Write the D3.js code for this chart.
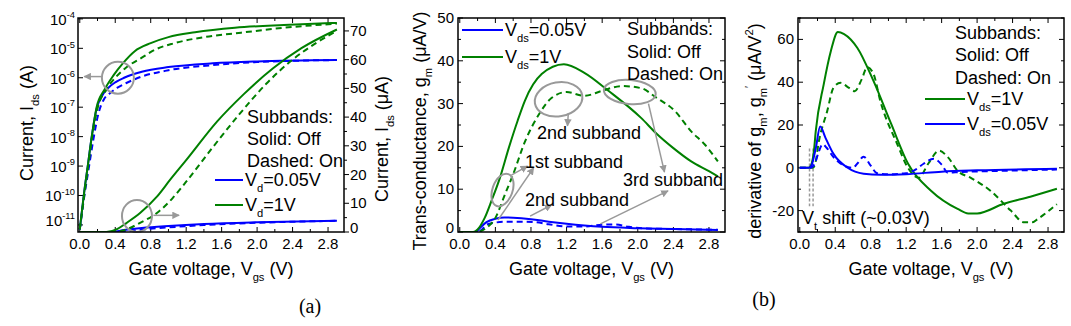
<!DOCTYPE html>
<html>
<head>
<meta charset="utf-8">
<script src="https://cdn.jsdelivr.net/npm/d3@7"></script>
<style>
  body { margin: 0; background: #fff; }
  text { font-family: "Liberation Sans", Arial, sans-serif; fill: #000; }
</style>
</head>
<body>
<svg id="fig" width="1071" height="326"></svg>
<script>
// ---- (a) drain current, log axis (A) : [Vgs, Ids]
const idsLogVd1Off = [[0,7e-12],[0.045,1e-10],[0.09,1e-9],[0.135,1e-8],[0.19,1e-7],[0.28,4e-7],[0.38,1.2e-6],[0.49,3.2e-6],[0.62,8e-6],[0.8,1.5e-5],[1.0,2.4e-5],[1.3,3.5e-5],[1.75,5e-5],[2.3,6.2e-5],[2.9,7.3e-5]];
const idsLogVd1On = [[0,7e-12],[0.05,1e-10],[0.095,1e-9],[0.14,1e-8],[0.2,9e-8],[0.3,4e-7],[0.4,1e-6],[0.52,2.2e-6],[0.7,4.8e-6],[0.85,9e-6],[1.07,1.5e-5],[1.4,2.4e-5],[1.82,3.4e-5],[2.3,5e-5],[2.9,6.9e-5]];
const idsLogVd005Off = [[0,7e-12],[0.045,1e-10],[0.09,1e-9],[0.135,1e-8],[0.19,9e-8],[0.25,2.4e-7],[0.32,4.5e-7],[0.4,7e-7],[0.5,1e-6],[0.7,1.6e-6],[1.0,2.3e-6],[1.5,3.1e-6],[2.0,3.6e-6],[2.9,4e-6]];
const idsLogVd005On = [[0,7e-12],[0.05,9e-11],[0.1,8e-10],[0.15,7e-9],[0.21,6e-8],[0.27,1.8e-7],[0.34,3e-7],[0.42,4.5e-7],[0.52,6.5e-7],[0.7,1.1e-6],[1.0,1.8e-6],[1.5,2.7e-6],[2.0,3.4e-6],[2.9,4e-6]];

// ---- (a) drain current, linear axis (uA)
const idsLinVd1Off = [[0,0],[0.3,0],[0.42,1],[0.53,3.2],[0.68,6.6],[0.87,12.3],[1.02,18.2],[1.2,25],[1.55,38.5],[1.85,48],[2.18,57],[2.5,64],[2.9,70.5]];
const idsLinVd1On = [[0,0],[0.4,0],[0.55,1.2],[0.68,3.2],[0.87,6.6],[1.05,11.9],[1.2,17.5],[1.5,29.5],[1.8,41],[2.1,51.5],[2.4,60],[2.65,65.5],[2.9,70]];
const idsLinVd005Off = [[0,0],[0.35,0],[0.5,0.7],[0.7,1.4],[1.0,2.1],[1.4,2.8],[2.0,3.4],[2.9,3.9]];
const idsLinVd005On = [[0,0],[0.4,0],[0.55,0.4],[0.75,1.0],[1.0,1.6],[1.4,2.4],[2.0,3.2],[2.9,3.9]];

// ---- trans-conductance gm (uA/V)
const gmVd1Off = [[0,0],[0.15,0],[0.2,0.6],[0.28,3.3],[0.36,7.5],[0.45,12.6],[0.55,19.6],[0.65,26],[0.73,30.6],[0.92,36.9],[1.17,39.2],[1.4,37.2],[1.67,33],[2.04,26.6],[2.2,23.2],[2.4,19.6],[2.6,16.5],[2.8,14.2],[2.9,13]];
const gmVd1On = [[0,0],[0.2,0],[0.28,0.7],[0.4,3.3],[0.51,8.9],[0.6,13.5],[0.73,21],[0.89,27.5],[1.03,31.3],[1.2,32.7],[1.4,31.8],[1.6,33],[1.82,34.1],[2.04,33.6],[2.2,31.5],[2.42,28.2],[2.6,23.5],[2.75,20.5],[2.9,16.5]];
const gmVd005Off = [[0,0],[0.18,0],[0.22,0.8],[0.3,2.3],[0.4,3.1],[0.5,3.4],[0.6,3.35],[0.8,3.0],[1.0,2.4],[1.2,1.9],[1.4,1.5],[1.6,1.2],[2.0,0.9],[2.4,0.7],[2.9,0.45]];
const gmVd005On = [[0,0],[0.2,0],[0.25,0.6],[0.3,1.7],[0.4,2.2],[0.5,2.4],[0.7,2.4],[0.85,2.3],[1.0,1.8],[1.2,1.3],[1.4,1.3],[1.6,1.7],[1.75,1.75],[1.9,1.2],[2.1,0.8],[2.4,0.7],[2.9,0.5]];

// ---- derivative of gm (uA/V^2)
const dgmVd1Off = [[0,0],[0.1,0],[0.13,1.5],[0.16,8],[0.18,17],[0.27,39],[0.35,54.5],[0.43,63.5],[0.5,62.5],[0.65,56],[0.83,40.7],[1.03,20.6],[1.22,2],[1.48,-10.7],[1.78,-19.2],[1.9,-21.3],[2.0,-21.3],[2.3,-16.8],[2.6,-13.5],[2.9,-9.8]];
const dgmVd1On = [[0,0],[0.15,0],[0.18,3],[0.21,11],[0.31,26.6],[0.38,37.4],[0.46,39.7],[0.55,37.5],[0.62,35.8],[0.7,41.5],[0.76,47],[0.83,44],[0.91,31],[1.1,11],[1.22,0],[1.34,-4.7],[1.45,2],[1.57,8],[1.67,5],[1.78,-1.4],[1.93,-4.7],[2.15,-10.7],[2.38,-20],[2.53,-25.5],[2.62,-25.5],[2.68,-24],[2.9,-17]];
const dgmVd005Off = [[0,0],[0.1,0],[0.13,1],[0.18,9],[0.23,19.3],[0.29,14],[0.38,6.5],[0.54,0],[0.72,-2.8],[0.91,-3.3],[1.2,-3],[1.6,-1.8],[2.0,-1.2],[2.9,-0.5]];
const dgmVd005On = [[0,0],[0.12,0],[0.17,2],[0.21,7],[0.26,11],[0.3,9.5],[0.38,5],[0.5,1],[0.6,0],[0.65,2],[0.72,5.2],[0.8,1],[0.87,-2.5],[1.0,-3],[1.2,-2.5],[1.3,-1],[1.4,2],[1.51,4.2],[1.6,1.5],[1.67,-2.3],[1.8,-2],[2.2,-1.5],[2.9,-0.8]];

// threshold-shift markers (Vgs) and axis ticks
const vtMarks = [0.11, 0.15];
const vgsTicks = [0, 0.4, 0.8, 1.2, 1.6, 2.0, 2.4, 2.8];
const logTicks = [-11, -10, -9, -8, -7, -6, -5, -4];
const linTicksA = [0, 10, 20, 30, 40, 50, 60, 70];
const gmTicks = [0, 10, 20, 30, 40, 50];
const dgmTicks = [-20, 0, 20, 40, 60];

const GREEN = "#008000", BLUE = "#0000ff", GRAY = "#999";
const svg = d3.select("#fig");
const plotTop = 18, plotBottom = 232;
const tickFont = 15;

const defs = svg.append("defs");
defs.append("marker").attr("id", "arr").attr("viewBox", "0 0 10 10")
  .attr("refX", 9).attr("refY", 5).attr("markerWidth", 5).attr("markerHeight", 5)
  .attr("orient", "auto")
  .append("path").attr("d", "M0,0 L10,5 L0,10 Z").attr("fill", GRAY);

// text with sub/superscript parts: [["V",""],["ds","sub"],["=1V",""]]
function rich(t, parts, size) {
  let shift = 0;
  parts.forEach(([s, k]) => {
    const target = k === "sub" ? size * 0.33 : k === "sup" ? -size * 0.45 : 0;
    t.append("tspan").attr("dy", target - shift)
      .attr("font-size", k ? size * 0.62 : size).text(s);
    shift = target;
  });
  return t;
}

function frame(id, x0, x1) {
  const g = svg.append("g");
  const x = d3.scaleLinear().domain([-0.02, 2.98]).range([x0, x1]);
  defs.append("clipPath").attr("id", id).append("rect")
    .attr("x", x0).attr("y", plotTop).attr("width", x1 - x0).attr("height", plotBottom - plotTop);
  // x ticks bottom and top, inward
  const minor = d3.range(0, 3.0, 0.2);
  minor.forEach(v => {
    const major = vgsTicks.some(t => Math.abs(t - v) < 1e-6);
    const len = major ? 5 : 3;
    g.append("line").attr("x1", x(v)).attr("x2", x(v)).attr("y1", plotBottom).attr("y2", plotBottom - len).attr("stroke", "#000");
    g.append("line").attr("x1", x(v)).attr("x2", x(v)).attr("y1", plotTop).attr("y2", plotTop + len).attr("stroke", "#000");
  });
  vgsTicks.forEach(v => g.append("text").attr("x", x(v)).attr("y", 249)
    .attr("text-anchor", "middle").attr("font-size", tickFont).text(v.toFixed(1)));
  const tt = g.append("text").attr("x", (x0 + x1) / 2).attr("y", 275).attr("text-anchor", "middle");
  rich(tt, [["Gate voltage, V", ""], ["gs", "sub"], [" (V)", ""]], 18);
  return { g, x, x0, x1, clip: id };
}

function yTicks(p, y, majors, step, side, out, labels) {
  const [lo, hi] = y.domain();
  const xs = side === "left" ? p.x0 : p.x1;
  const dir = (side === "left" ? 1 : -1) * (out ? -1 : 1);
  for (let v = Math.ceil(lo / step) * step; v <= hi + 1e-9; v += step) {
    const major = majors.some(t => Math.abs(t - v) < 1e-6);
    p.g.append("line").attr("x1", xs).attr("x2", xs + dir * (major ? 5 : 3))
      .attr("y1", y(v)).attr("y2", y(v)).attr("stroke", "#000");
  }
  if (labels) majors.forEach(v => {
    // a label sitting on the bottom edge is nudged up, clear of the x labels
    const lift = Math.abs(y(v) - plotBottom) < 1 ? -4 : 0;
    p.g.append("text").attr("x", side === "left" ? xs - 4 : xs + 6).attr("y", y(v) + 5 + lift)
      .attr("text-anchor", side === "left" ? "end" : "start").attr("font-size", tickFont).text(v);
  });
}

function box(p) {
  p.g.append("rect").attr("x", p.x0).attr("y", plotTop).attr("width", p.x1 - p.x0)
    .attr("height", plotBottom - plotTop).attr("fill", "none").attr("stroke", "#000").attr("stroke-width", 1.5);
}

function curve(p, y, data, color, dashed, yf) {
  const line = d3.line().x(d => p.x(d[0])).y(d => y(yf ? yf(d[1]) : d[1])).curve(d3.curveMonotoneX);
  p.g.append("path").datum(data).attr("d", line).attr("fill", "none")
    .attr("stroke", color).attr("stroke-width", 2)
    .attr("stroke-dasharray", dashed ? "6,4" : null)
    .attr("clip-path", `url(#${p.clip})`);
}

function label(p, x, y, parts, size, anchor) {
  const t = p.g.append("text").attr("x", x).attr("y", y).attr("text-anchor", anchor || "start");
  rich(t, parts, size || 18);
  return t;
}

function yTitle(cx, cy, parts) {
  const t = svg.append("text").attr("transform", `translate(${cx + 6},${cy}) rotate(-90)`)
    .attr("text-anchor", "middle");
  rich(t, parts, 18);
}

function arrow(p, x1, y1, x2, y2) {
  p.g.append("line").attr("x1", x1).attr("y1", y1).attr("x2", x2).attr("y2", y2)
    .attr("stroke", GRAY).attr("stroke-width", 1.5).attr("marker-end", "url(#arr)");
}

function ellipse(p, cx, cy, rx, ry, rot) {
  p.g.append("ellipse").attr("cx", cx).attr("cy", cy).attr("rx", rx).attr("ry", ry)
    .attr("transform", `rotate(${rot || 0},${cx},${cy})`)
    .attr("fill", "none").attr("stroke", GRAY).attr("stroke-width", 2);
}

function legendLine(p, xa, xb, yy, color) {
  p.g.append("line").attr("x1", xa).attr("x2", xb).attr("y1", yy).attr("y2", yy)
    .attr("stroke", color).attr("stroke-width", 2);
}

// ================= panel (a): Ids-Vgs =================
const pA = frame("clipA", 78, 344);
const yLog = d3.scaleLinear().domain([-11.24, -3.97]).range([plotBottom, plotTop]);
const yLin = d3.scaleLinear().domain([0, 74.5]).range([plotBottom, plotTop]);
logTicks.forEach(e => {
  pA.g.append("line").attr("x1", pA.x0).attr("x2", pA.x0 + 5).attr("y1", yLog(e)).attr("y2", yLog(e)).attr("stroke", "#000");
  // lowest label sits a little higher so it clears the x labels
  const lift = e === -11 ? -5 : 0;
  const t = pA.g.append("text").attr("x", pA.x0 - 3).attr("y", yLog(e) + 6 + lift).attr("text-anchor", "end");
  rich(t, [["10", ""], [String(e), "sup"]], tickFont);
});
yTicks(pA, yLin, linTicksA, 5, "right", true, true);

const lg = v => Math.log10(v);
curve(pA, yLog, idsLogVd005On, BLUE, true, lg);
curve(pA, yLog, idsLogVd005Off, BLUE, false, lg);
curve(pA, yLog, idsLogVd1On, GREEN, true, lg);
curve(pA, yLog, idsLogVd1Off, GREEN, false, lg);
curve(pA, yLin, idsLinVd005On, BLUE, true);
curve(pA, yLin, idsLinVd005Off, BLUE, false);
curve(pA, yLin, idsLinVd1On, GREEN, true);
curve(pA, yLin, idsLinVd1Off, GREEN, false);

ellipse(pA, pA.x(0.43), yLog(-6), 16, 16);
arrow(pA, pA.x(0.25), yLog(-5.96), pA.x(0.05), yLog(-5.96));
ellipse(pA, pA.x(0.645), yLin(5.6), 15, 16);
arrow(pA, pA.x(0.83), yLin(5.8), pA.x(1.12), yLin(5.8));

label(pA, 247, 123, [["Subbands:", ""]]);
label(pA, 247, 145, [["Solid: Off", ""]]);
label(pA, 247, 167, [["Dashed: On", ""]]);
legendLine(pA, 215, 243, 180, BLUE);
label(pA, 245, 186, [["V", ""], ["d", "sub"], ["=0.05V", ""]]);
legendLine(pA, 215, 243, 205, GREEN);
label(pA, 245, 211, [["V", ""], ["d", "sub"], ["=1V", ""]]);
box(pA);
yTitle(27, 123, [["Current, I", ""], ["ds", "sub"], [" (A)", ""]]);
yTitle(382, 139, [["Current, I", ""], ["ds", "sub"], [" (\u03bcA)", ""]]);

// ================= panel: gm-Vgs =================
const pB = frame("clipB", 458, 725);
const yGm = d3.scaleLinear().domain([0, 50]).range([plotBottom, plotTop]);
yTicks(pB, yGm, gmTicks, 5, "left", false, true);
yTicks(pB, yGm, gmTicks, 5, "right", false, false);
curve(pB, yGm, gmVd005On, BLUE, true);
curve(pB, yGm, gmVd005Off, BLUE, false);
curve(pB, yGm, gmVd1On, GREEN, true);
curve(pB, yGm, gmVd1Off, GREEN, false);

ellipse(pB, pB.x(1.11), yGm(31), 24, 17, -10);
arrow(pB, pB.x(1.22), yGm(27.8), pB.x(1.21), yGm(24.8));
ellipse(pB, pB.x(1.91), yGm(32.7), 26, 12, 5);
arrow(pB, pB.x(2.12), yGm(30), pB.x(2.3), yGm(14));
ellipse(pB, pB.x(0.48), yGm(9.8), 10, 17, 20);
arrow(pB, pB.x(0.58), yGm(13.3), pB.x(0.76), yGm(15.4));
arrow(pB, pB.x(0.43), yGm(2.8), pB.x(0.83), yGm(15));
arrow(pB, pB.x(0.79), yGm(3.7), pB.x(1.03), yGm(6.3));
arrow(pB, pB.x(1.58), yGm(1.9), pB.x(2.34), yGm(9.6));

label(pB, 537, 139, [["2nd subband", ""]]);
label(pB, 525, 168, [["1st subband", ""]]);
label(pB, 525, 206, [["2nd subband", ""]]);
label(pB, 623, 186, [["3rd subband", ""]]);
label(pB, 627, 35, [["Subbands:", ""]]);
label(pB, 627, 58, [["Solid: Off", ""]]);
label(pB, 627, 80, [["Dashed: On", ""]]);
legendLine(pB, 462, 503, 30, BLUE);
label(pB, 505, 36, [["V", ""], ["ds", "sub"], ["=0.05V", ""]]);
legendLine(pB, 462, 503, 57, GREEN);
label(pB, 505, 63, [["V", ""], ["ds", "sub"], ["=1V", ""]]);
box(pB);
yTitle(420, 131, [["Trans-conductance, g", ""], ["m", "sub"], [" (\u03bcA/V)", ""]]);

// ================= panel (b): dgm/dVgs =================
const pC = frame("clipC", 798, 1064);
const yD = d3.scaleLinear().domain([-30, 70]).range([plotBottom, plotTop]);
yTicks(pC, yD, dgmTicks, 10, "left", false, true);
yTicks(pC, yD, dgmTicks, 10, "right", false, false);
vtMarks.forEach(v => pC.g.append("line").attr("x1", pC.x(v)).attr("x2", pC.x(v))
  .attr("y1", yD(9)).attr("y2", yD(-18)).attr("stroke", GRAY).attr("stroke-width", 1.5)
  .attr("stroke-dasharray", "3,2"));
curve(pC, yD, dgmVd1On, GREEN, true);
curve(pC, yD, dgmVd1Off, GREEN, false);
curve(pC, yD, dgmVd005On, BLUE, true);
curve(pC, yD, dgmVd005Off, BLUE, false);

label(pC, 955, 39, [["Subbands:", ""]]);
label(pC, 955, 61, [["Solid: Off", ""]]);
label(pC, 955, 84, [["Dashed: On", ""]]);
legendLine(pC, 925, 965, 99, GREEN);
label(pC, 967, 105, [["V", ""], ["ds", "sub"], ["=1V", ""]]);
legendLine(pC, 925, 965, 124, BLUE);
label(pC, 967, 130, [["V", ""], ["ds", "sub"], ["=0.05V", ""]]);
label(pC, 802, 224, [["V", ""], ["t", "sub"], [" shift (~0.03V)", ""]]);
box(pC);
yTitle(755, 131, [["derivative of g", ""], ["m", "sub"], [", g", ""], ["m", "sub"], ["\u2032", "sup"], [" (\u03bcA/V", ""], ["2", "sup"], [")", ""]]);

// panel captions
svg.append("text").attr("x", 310).attr("y", 313).attr("text-anchor", "middle")
  .style("font-family", "'Liberation Serif', 'Times New Roman', serif").attr("font-size", 20).text("(a)");
svg.append("text").attr("x", 764).attr("y", 306).attr("text-anchor", "middle")
  .style("font-family", "'Liberation Serif', 'Times New Roman', serif").attr("font-size", 20).text("(b)");
</script>
</body>
</html>
